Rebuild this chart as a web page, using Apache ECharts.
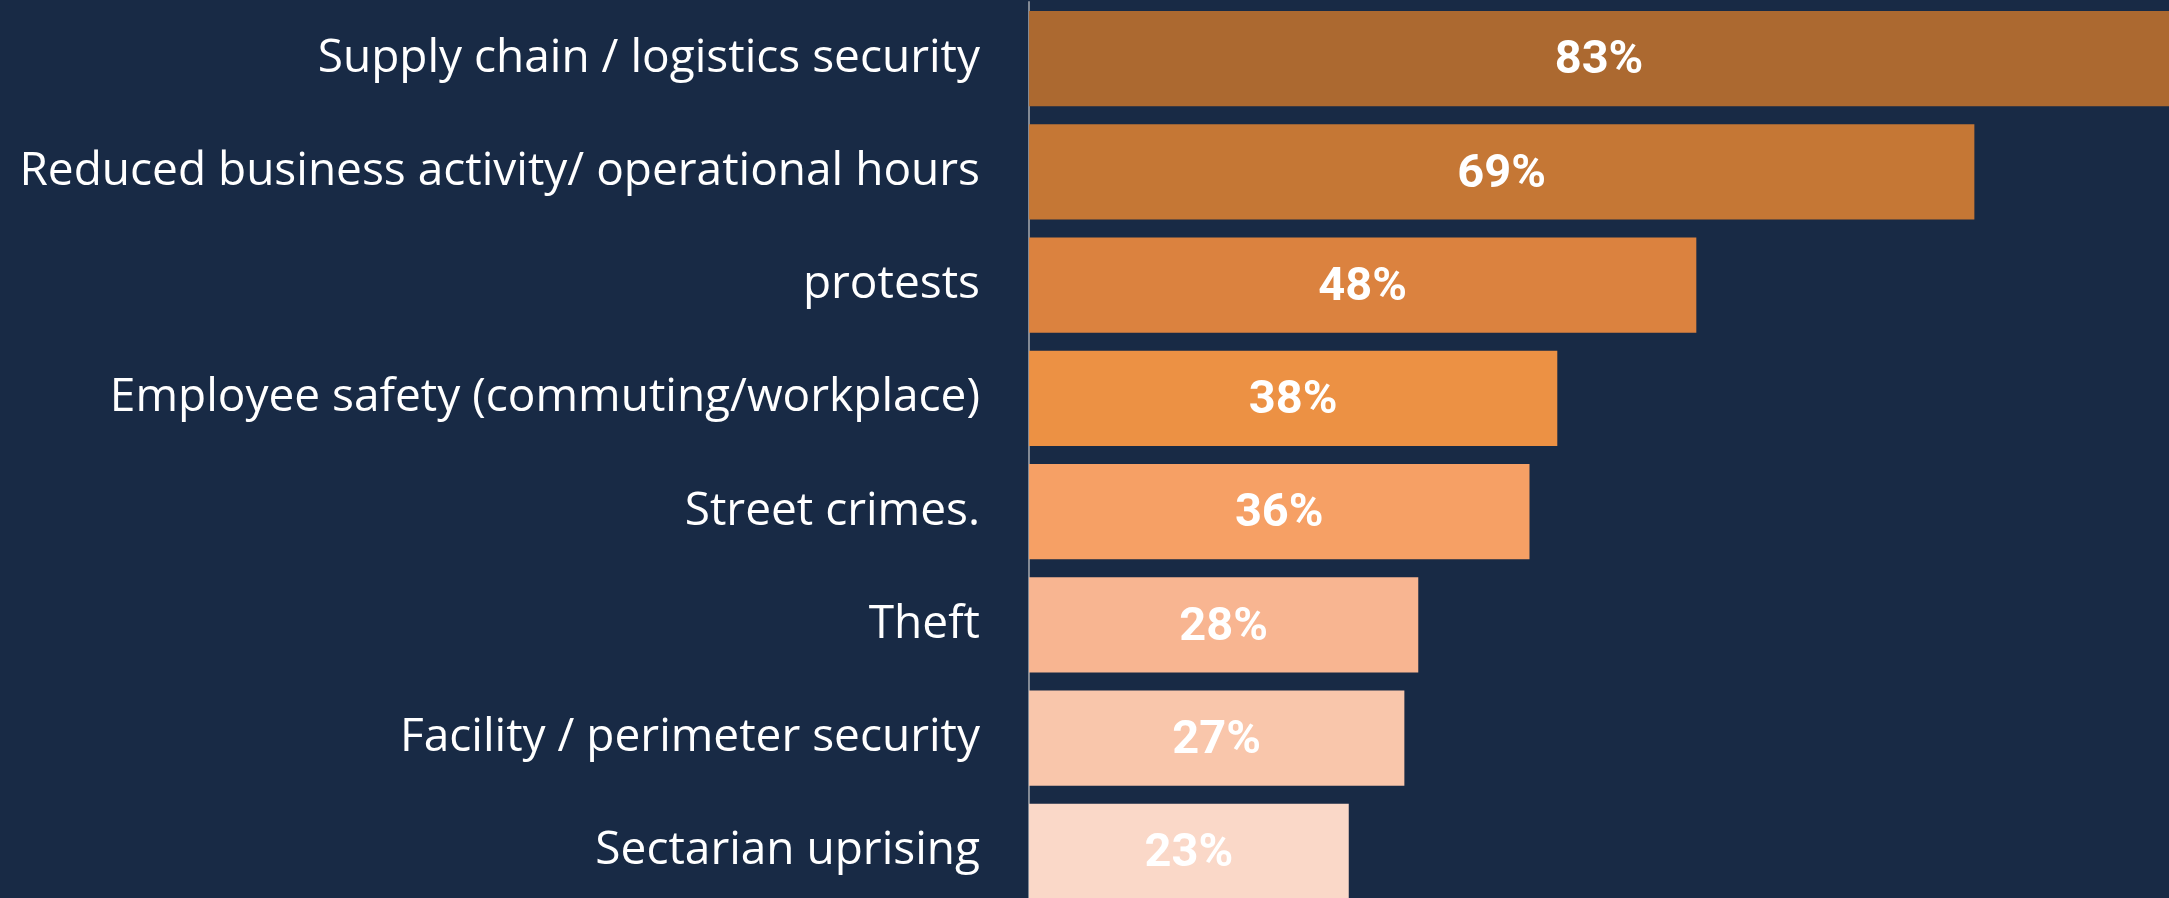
<!DOCTYPE html>
<html>
<head>
<meta charset="utf-8">
<script src="https://cdn.jsdelivr.net/npm/echarts@6/dist/echarts.min.js"></script>
<style>
  html, body { margin: 0; padding: 0; background: #182a45; }
  #chart { width: 2169px; height: 898px; }
</style>
</head>
<body>
<div id="chart"></div>
<script>
const categories = [
  "Supply chain / logistics security",
  "Reduced business activity/ operational hours",
  "protests",
  "Employee safety (commuting/workplace)",
  "Street crimes.",
  "Theft",
  "Facility / perimeter security",
  "Sectarian uprising",
];
// bar lengths as measured; shown labels kept as printed
const values = [83, 68, 48, 38, 36, 28, 27, 23];
const pctLabels = ["83%", "69%", "48%", "38%", "36%", "28%", "27%", "23%"];
const barColors = ["#ac6930", "#c57735", "#db823f", "#ec9144", "#f6a065", "#f8b591", "#f9c6ab", "#fad8c8"];

const chart = echarts.init(document.getElementById("chart"));

chart.setOption({
  backgroundColor: "#182a45",
  animation: false,
  grid: { left: 1029, right: 0, top: 2, height: 906, outerBoundsMode: "none", containLabel: false },
  xAxis: {
    type: "value",
    min: 0,
    max: 82,
    show: false,
  },
  yAxis: {
    type: "category",
    inverse: true,
    data: categories,
    axisLine: { show: true, lineStyle: { color: "#838a95", width: 2 } },
    axisTick: { show: false },
    axisLabel: {
      color: "#ffffff",
      fontFamily: "Open Sans",
      fontSize: 46,
      margin: 49,
      padding: [4, 0, 0, 0],
    },
  },
  series: [
    {
      type: "bar",
      barCategoryGap: "16%",
      clip: true,
      data: values.map((v, i) => ({ value: v, itemStyle: { color: barColors[i] } })),
      label: {
        show: true,
        position: "inside",
        offset: [0, 3],
        color: "#ffffff",
        fontFamily: "Roboto",
        fontWeight: "bold",
        fontSize: 47,
        formatter: (p) => pctLabels[p.dataIndex],
      },
    },
  ],
});
</script>
</body>
</html>
